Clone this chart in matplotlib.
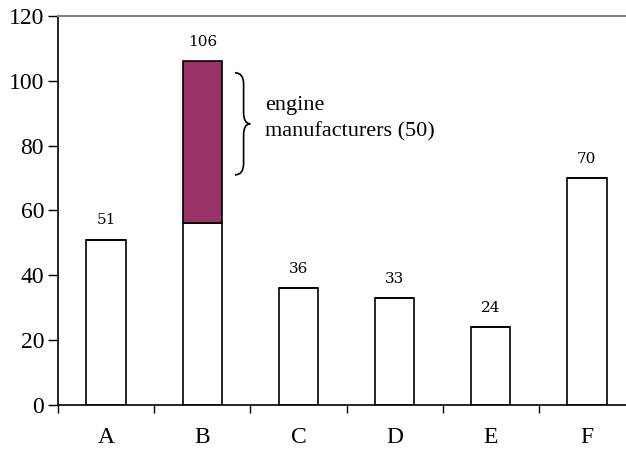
import matplotlib.pyplot as plt
from matplotlib.path import Path
from matplotlib.patches import PathPatch

# data
categories = ["A", "B", "C", "D", "E", "F"]
base_values = [51, 56, 36, 33, 24, 70]
engine_values = [0, 50, 0, 0, 0, 0]
totals = [b + e for b, e in zip(base_values, engine_values)]
brace_label = "engine\nmanufacturers (50)"

fig = plt.figure(figsize=(6.26, 4.49), dpi=100)
ax = fig.add_axes([58 / 626, 44 / 449, 577 / 626, 389 / 449])

x = range(len(categories))
ax.bar(x, base_values, width=0.41, color="white", edgecolor="black", linewidth=1.2)
ax.bar(x, engine_values, width=0.41, bottom=base_values, color="#993366",
       edgecolor="black", linewidth=1.2)

for i, t in enumerate(totals):
    ax.annotate(str(t), (i, t), xytext=(0, 9), textcoords="offset points",
                ha="center", va="bottom", fontsize=11, family="DejaVu Serif")

# curly brace next to the engine segment of B
b = 1
top = totals[b] - 3.5
bot = base_values[b] + 15
mid = (top + bot) / 2
x0, x1, x2 = b + 0.34, b + 0.43, b + 0.50
r = 3.5
verts = [(x0, top), (x1, top), (x1, top - r), (x1, top - r),
         (x1, mid + r), (x1, mid), (x2, mid),
         (x1, mid), (x1, mid - r), (x1, mid - r),
         (x1, bot + r), (x1, bot), (x0, bot)]
codes = [Path.MOVETO, Path.CURVE3, Path.CURVE3, Path.LINETO,
         Path.LINETO, Path.CURVE3, Path.CURVE3,
         Path.CURVE3, Path.CURVE3, Path.LINETO,
         Path.LINETO, Path.CURVE3, Path.CURVE3]
ax.add_patch(PathPatch(Path(verts, codes), fill=False, edgecolor="black",
                       linewidth=1.2))
ax.text(b + 0.65, mid + 1.5, brace_label, ha="left", va="center", fontsize=16,
        family="Liberation Serif", linespacing=1.45)

ax.set_xlim(-0.5, len(categories) - 0.5)
ax.set_ylim(0, 120)
ax.set_yticks(range(0, 121, 20))
ax.set_xticks(x)
ax.set_xticklabels(categories)
ax.set_xticks([i - 0.5 for i in range(len(categories) + 1)], minor=True)
ax.tick_params(axis="x", which="major", length=0, pad=16)
ax.tick_params(axis="x", which="minor", length=6, width=1, direction="out")
ax.tick_params(axis="y", length=7, width=1, direction="out", pad=3)
for lbl in ax.get_xticklabels() + ax.get_yticklabels():
    lbl.set_family("Liberation Serif")
    lbl.set_fontsize(17)

ax.spines["right"].set_visible(False)
ax.spines["top"].set_color("gray")
ax.spines["top"].set_linewidth(1.5)
ax.spines["left"].set_linewidth(1.2)
ax.spines["bottom"].set_linewidth(1.2)

fig.savefig("out.png", dpi=100)
